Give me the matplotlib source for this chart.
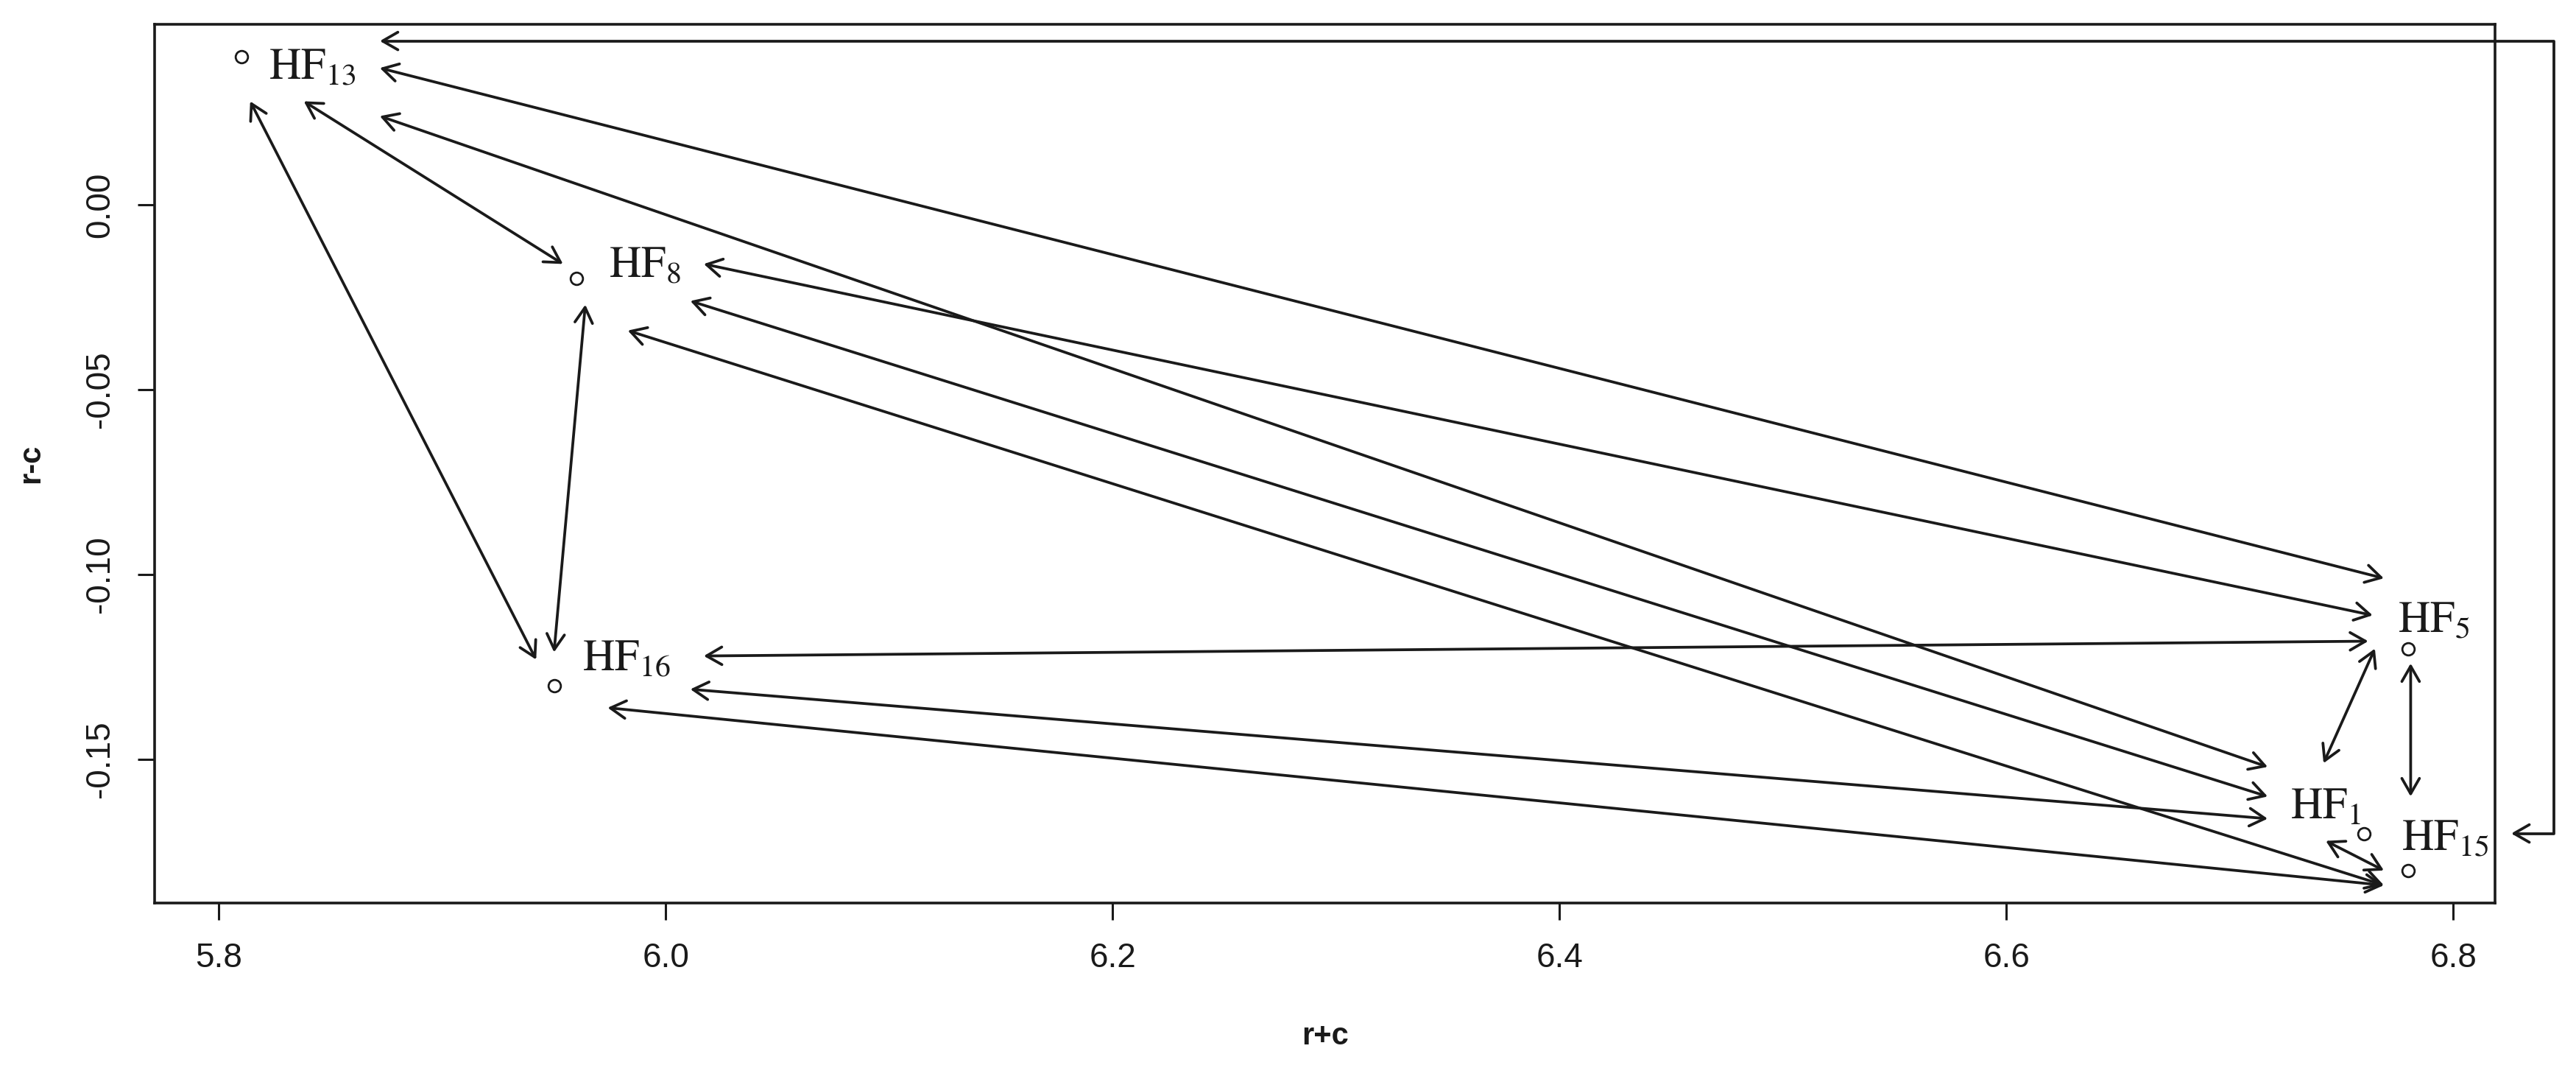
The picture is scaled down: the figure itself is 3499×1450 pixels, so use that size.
import matplotlib
matplotlib.use("Agg")
import matplotlib.pyplot as plt
from matplotlib.patches import FancyArrowPatch, ArrowStyle
from matplotlib.path import Path
from matplotlib import font_manager

installed = {f.name for f in font_manager.fontManager.ttflist}
sans = ['Liberation Sans Narrow'] if 'Liberation Sans Narrow' in installed else []
plt.rcParams['font.family'] = sans + ['Liberation Sans', 'DejaVu Sans']
plt.rcParams['mathtext.fontset'] = 'stix'

# ---------------- data ----------------
factor_labels = [r'$\mathrm{HF}_{13}$', r'$\mathrm{HF}_{8}$', r'$\mathrm{HF}_{16}$',
                 r'$\mathrm{HF}_{5}$', r'$\mathrm{HF}_{1}$', r'$\mathrm{HF}_{15}$']
r_plus_c = [5.81, 5.96, 5.95, 6.78, 6.76, 6.78]
r_minus_c = [0.04, -0.02, -0.13, -0.12, -0.17, -0.18]

# double-headed arrows (start x, start y, end x, end y)
arrow_x0 = [5.872, 5.838, 5.814, 5.872, 6.017, 6.011, 5.983, 5.964, 6.017, 6.011, 5.974, 6.742, 6.781, 6.743]
arrow_y0 = [0.037, 0.028, 0.028, 0.024, -0.016, -0.026, -0.034, -0.027, -0.122, -0.131, -0.136, -0.151, -0.124, -0.172]
arrow_x1 = [6.769, 5.954, 5.942, 6.717, 6.764, 6.717, 6.769, 5.950, 6.762, 6.717, 6.769, 6.765, 6.781, 6.769]
arrow_y1 = [-0.101, -0.016, -0.123, -0.152, -0.111, -0.160, -0.184, -0.121, -0.118, -0.166, -0.184, -0.120, -0.160, -0.180]

# bracket-shaped link HF13 <-> HF15 (runs outside the plot on the right)
bracket_x = [5.872, 6.845, 6.845, 6.826]
bracket_y = [0.0443, 0.0443, -0.170, -0.170]

xticks = [5.8, 6.0, 6.2, 6.4, 6.6, 6.8]
xtick_labels = ['5.8', '6.0', '6.2', '6.4', '6.6', '6.8']
yticks = [0.00, -0.05, -0.10, -0.15]
ytick_labels = ['0.00', '-0.05', '-0.10', '-0.15']

# ---------------- figure ----------------
fig = plt.figure(figsize=(34.99, 14.5), dpi=100)
ax = fig.add_axes([0.0600, 0.1545, 0.9086, 0.8227])

ink = '#1a1a1a'

ax.plot(r_plus_c, r_minus_c, linestyle='none', marker='o', markersize=12,
        markerfacecolor='none', markeredgecolor=ink, markeredgewidth=2.0, zorder=3)

# R-style axis ranges (4% padding)
xr = max(r_plus_c) - min(r_plus_c)
yr = max(r_minus_c) - min(r_minus_c)
ax.set_xlim(min(r_plus_c) - 0.04 * xr, max(r_plus_c) + 0.04 * xr)
ax.set_ylim(min(r_minus_c) - 0.04 * yr, max(r_minus_c) + 0.04 * yr)

style = ArrowStyle('<->', head_length=15, head_width=8.6)
for x0, y0, x1, y1 in zip(arrow_x0, arrow_y0, arrow_x1, arrow_y1):
    ax.add_patch(FancyArrowPatch((x0, y0), (x1, y1), arrowstyle=style,
                                 mutation_scale=1, shrinkA=0, shrinkB=0,
                                 lw=2.7, color=ink, zorder=2))

bracket = FancyArrowPatch(path=Path(list(zip(bracket_x, bracket_y))), arrowstyle=style,
                          mutation_scale=1, lw=2.7, color=ink,
                          transform=ax.transData, clip_on=False, zorder=2)
ax.add_patch(bracket)

# labels (offsets in points)
label_offsets = [(26.6, -21.6), (31.7, 1.4), (27.4, 14.4), (-10, 15.8), (-72, 14.4), (-6.5, 20)]
for lab, x, y, off in zip(factor_labels, r_plus_c, r_minus_c, label_offsets):
    ax.annotate(lab, (x, y), xytext=off, textcoords='offset points',
                ha='left', va='baseline', fontsize=43, color=ink)

ax.set_xticks(xticks, labels=xtick_labels)
ax.set_yticks(yticks, labels=ytick_labels)
for lab in ax.get_yticklabels():
    lab.set_rotation(90)
    lab.set_va('center')
ax.tick_params(axis='both', direction='out', length=16.5, width=2.2,
               labelsize=33, colors=ink)
ax.tick_params(axis='x', pad=22)
ax.tick_params(axis='y', pad=21)

for sp in ax.spines.values():
    sp.set_linewidth(2.6)
    sp.set_color(ink)

ax.set_xlabel('r+c', fontsize=30, fontweight='bold', color=ink)
ax.set_ylabel('r-c', fontsize=30, fontweight='bold', color=ink)
ax.xaxis.set_label_coords(0.5, -0.1517)
ax.xaxis.label.set_va('center')
ax.yaxis.set_label_coords(-0.0528, 0.5)
ax.yaxis.label.set_va('center')

fig.savefig('out.png', dpi=100, facecolor='white')
